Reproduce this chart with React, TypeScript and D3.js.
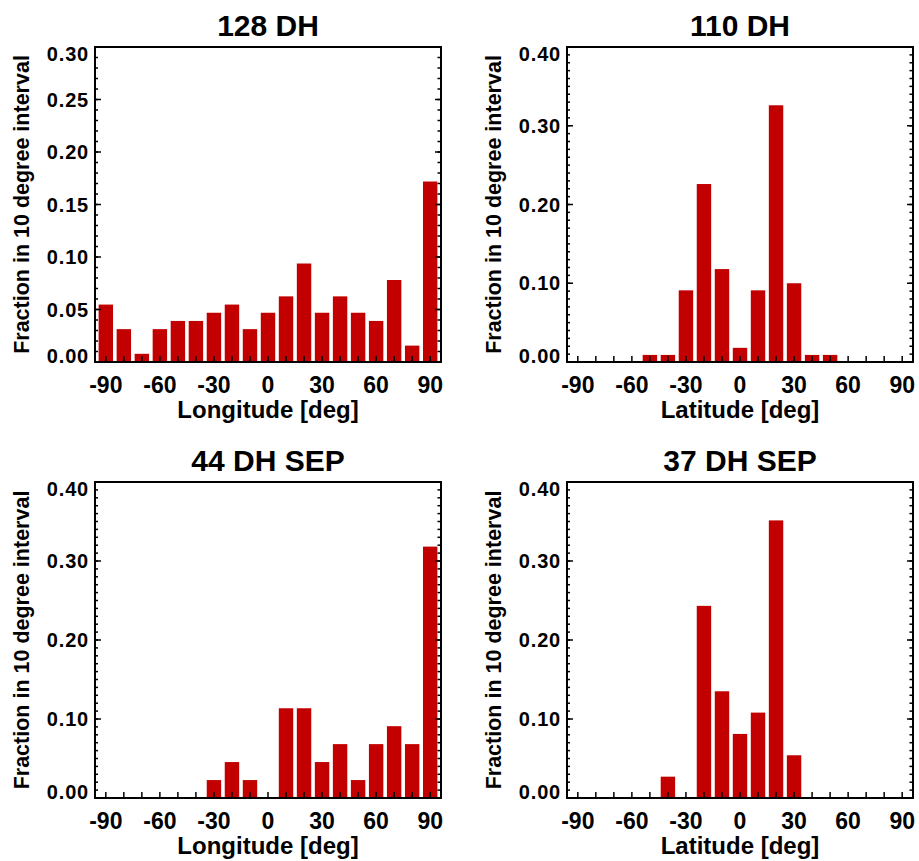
import * as d3 from "d3";

// bin centres, 10 degree intervals
const bins = [-90, -80, -70, -60, -50, -40, -30, -20, -10, 0, 10, 20, 30, 40, 50, 60, 70, 80, 90];
const xTickLabels = [-90, -60, -30, 0, 30, 60, 90];

const lon128 = [0.0547, 0.0313, 0.0078, 0.0313, 0.0391, 0.0391, 0.0469, 0.0547, 0.0313, 0.0469, 0.0625, 0.0938, 0.0469, 0.0625, 0.0469, 0.0391, 0.0781, 0.0156, 0.1719];
const lat110 = [0, 0, 0, 0, 0.009, 0.009, 0.091, 0.226, 0.118, 0.018, 0.091, 0.326, 0.1, 0.009, 0.009, 0, 0, 0, 0];
const lon44 = [0, 0, 0, 0, 0, 0, 0.0227, 0.0455, 0.0227, 0, 0.1136, 0.1136, 0.0455, 0.0682, 0.0227, 0.0682, 0.0909, 0.0682, 0.3182];
const lat37 = [0, 0, 0, 0, 0, 0.027, 0, 0.2432, 0.1351, 0.0811, 0.1081, 0.3514, 0.0541, 0, 0, 0, 0, 0, 0];

const titles = ["128 DH", "110 DH", "44 DH SEP", "37 DH SEP"];
const xTitles = ["Longitude [deg]", "Latitude [deg]", "Longitude [deg]", "Latitude [deg]"];
const yMax = [0.3, 0.4, 0.4, 0.4];
const yMajor = [0.05, 0.1, 0.1, 0.1];
const yMinor = 0.01;
const yTitle = "Fraction in 10 degree interval";

const W = 919;
const H = 861;
const font = "'Liberation Sans', Arial, Helvetica, sans-serif";
const barColor = "#c30000";

function Panel({ left, top, right, bottom, values, idx }: any) {
  const x = d3.scaleLinear([-96, 96], [left, right]);
  const y = d3.scaleLinear([0, yMax[idx]], [bottom, top]);
  const majors = d3.range(0, yMax[idx] + 1e-9, yMajor[idx]);
  const minors = d3.range(0, yMax[idx] + 1e-9, yMinor);
  const halfW = 4;

  return (
    <g>
      <text x={(left + right) / 2} y={top - 11} textAnchor="middle" fontSize={30} fontWeight="bold" fontFamily={font}>
        {titles[idx]}
      </text>
      {values.map((v: number, i: number) =>
        v > 0 ? (
          <rect key={i} x={x(bins[i] - halfW)} y={y(v)} width={x(bins[i] + halfW) - x(bins[i] - halfW)} height={y(0) - y(v)} fill={barColor} />
        ) : null
      )}
      {/* y minor + major ticks, both sides */}
      {minors.map((t, i) => (
        <g key={"mn" + i}>
          <line x1={left} x2={left + 3} y1={y(t)} y2={y(t)} stroke="#000" strokeWidth={1.5} />
          <line x1={right} x2={right - 3.5} y1={y(t)} y2={y(t)} stroke="#000" strokeWidth={1.5} />
        </g>
      ))}
      {majors.map((t, i) => (
        <g key={"mj" + i}>
          <line x1={left} x2={left + 6} y1={y(t)} y2={y(t)} stroke="#000" strokeWidth={1.5} />
          <line x1={right} x2={right - 6} y1={y(t)} y2={y(t)} stroke="#000" strokeWidth={1.5} />
          <text
            x={left - 6}
            y={Math.max(top + 6.5, Math.min(bottom - 6.5, y(t)))}
            dy="0.36em"
            textAnchor="end"
            fontSize={20}
            letterSpacing={0.8}
            fontWeight="bold"
            fontFamily={font}
          >
            {t.toFixed(2)}
          </text>
        </g>
      ))}
      {/* x ticks */}
      {bins.map((b) => (
        <line key={"xt" + b} x1={x(b)} x2={x(b)} y1={bottom} y2={bottom - 6} stroke="#000" strokeWidth={1.5} />
      ))}
      {xTickLabels.map((b) => (
        <text key={"xl" + b} x={x(b)} y={bottom + 31} textAnchor="middle" fontSize={23} fontWeight="bold" fontFamily={font}>
          {b}
        </text>
      ))}
      <rect x={left} y={top} width={right - left} height={bottom - top} fill="none" stroke="#000" strokeWidth={2} />
      <text x={(left + right) / 2} y={bottom + 56} textAnchor="middle" fontSize={24} fontWeight="bold" fontFamily={font}>
        {xTitles[idx]}
      </text>
      <text
        transform={`translate(${left - 66},${(top + bottom) / 2}) rotate(-90)`}
        textAnchor="middle"
        fontSize={21.5}
        fontWeight="bold"
        fontFamily={font}
      >
        {yTitle}
      </text>
    </g>
  );
}

export default function App() {
  return (
    <svg width={W} height={H} style={{ position: "absolute", left: 0, top: 0, background: "#fff" }}>
      <Panel idx={0} values={lon128} left={95} right={441} top={47} bottom={362} />
      <Panel idx={1} values={lat110} left={567} right={913} top={47} bottom={362} />
      <Panel idx={2} values={lon44} left={95} right={441} top={482} bottom={798} />
      <Panel idx={3} values={lat37} left={567} right={913} top={482} bottom={798} />
    </svg>
  );
}
